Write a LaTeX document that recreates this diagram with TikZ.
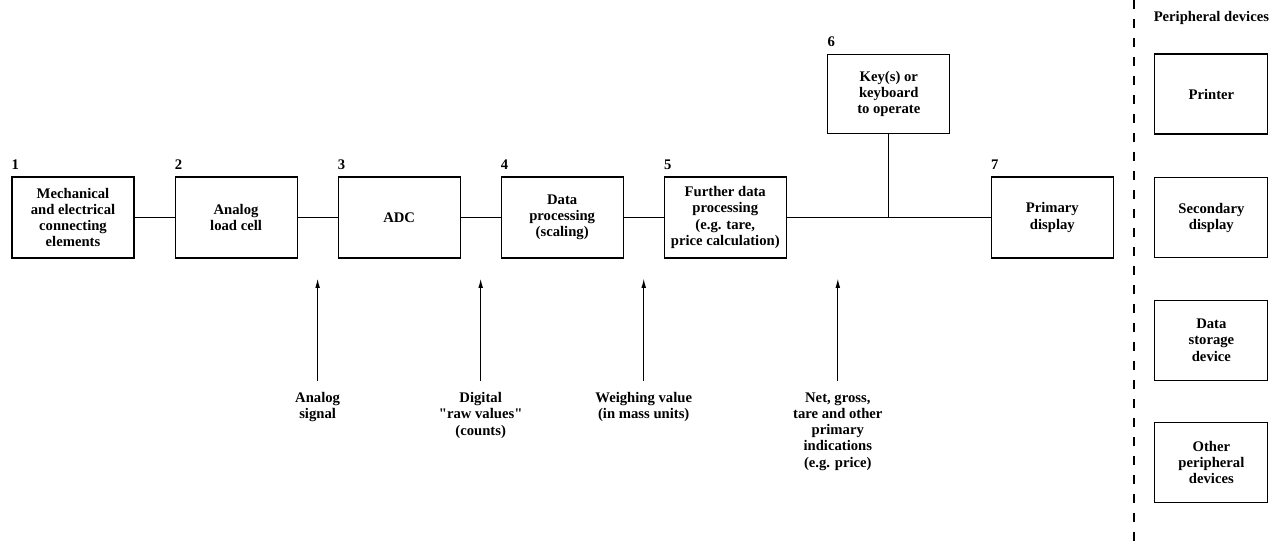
\documentclass[tikz,border=0pt]{standalone}
\usepackage{fontspec}
\setmainfont{Liberation Serif}[Ligatures=TeXOff]
\usetikzlibrary{positioning, arrows.meta, calc}

\tikzstyle{unit} = [rectangle, draw, line width=0.8pt, minimum width=91.5pt, minimum height=60.75pt, align=center, inner sep=2pt]
\tikzstyle{device} = [rectangle, draw, line width=0.8pt, minimum width=84.75pt, minimum height=60pt, align=center, inner sep=2pt]
\tikzstyle{num} = [anchor=south west, inner sep=0pt, yshift=5pt]
\tikzstyle{caption} = [align=center, inner sep=2pt]
\tikzstyle{link} = [line width=0.8pt]
\tikzstyle{arrow} = [line width=0.8pt, -{Latex[length=7pt, width=3.5pt]}, shorten <=6.75pt]
\tikzstyle{divider} = [line width=1.2pt, dash pattern=on 7pt off 7.25pt]

\begin{document}
\begin{tikzpicture}[node distance=30pt, font=\fontsize{11}{12.2}\selectfont\bfseries]
  \useasboundingbox (0,0) rectangle (966pt,-408pt);
  \coordinate (origin) at (0,0);
  \coordinate (floor) at (0,-408pt);

  % Main chain
  \node (mech) [unit, label={[num]north west:1}] at (54.75pt,-163.125pt) {Mechanical\\and electrical\\connecting\\elements};
  \node (cell) [unit, right=of mech, label={[num]north west:2}] {Analog\\load cell};
  \node (adc) [unit, right=of cell, label={[num]north west:3}] {ADC};
  \node (scaling) [unit, right=of adc, label={[num]north west:4}] {Data\\processing\\(scaling)};
  \node (further) [unit, right=of scaling, label={[num]north west:5}] {Further data\\processing\\(e.g. tare,\\price calculation)};
  \node (display) [unit, right=153pt of further, label={[num]north west:7}] {Primary\\display};

  % Operating keys
  \coordinate (junction) at ($(further.east)!0.5!(display.west)$);
  \node (keys) [unit, minimum height=59.25pt, above=62.6pt of junction, label={[num]north west:6}] {Key(s) or\\keyboard\\to operate};

  % Peripheral devices
  \node (printer) [device, right=153pt of keys] {Printer};
  \node (secondary) [device, below=32pt of printer] {Secondary\\display};
  \node (storage) [device, below=31pt of secondary] {Data\\storage\\device};
  \node (other) [device, below=31pt of storage] {Other\\peripheral\\devices};
  \node (periph) [above=18pt of printer] {Peripheral devices};

  % Connections
  \draw[link] (mech) -- (cell);
  \draw[link] (cell) -- (adc);
  \draw[link] (adc) -- (scaling);
  \draw[link] (scaling) -- (further);
  \draw[link] (further) -- (display);
  \draw[link] (keys) -- (junction);

  % Signals between the stages
  \coordinate (tipA) at ($(cell.south east)!0.5!(adc.south west)+(0,-15pt)$);
  \coordinate (tipD) at ($(adc.south east)!0.5!(scaling.south west)+(0,-15pt)$);
  \coordinate (tipW) at ($(scaling.south east)!0.5!(further.south west)+(0,-15pt)$);
  \coordinate (tipN) at ($(further.south east)!0.5!(junction)$);
  \coordinate (tipN) at (tipN |- tipA);

  \node (analog) [caption, below=83.25pt of tipA, anchor=north] {Analog\\signal};
  \node (digital) [caption, below=83.25pt of tipD, anchor=north] {Digital\\"raw values"\\(counts)};
  \node (weighing) [caption, below=83.25pt of tipW, anchor=north] {Weighing value\\(in mass units)};
  \node (netgross) [caption, below=83.25pt of tipN, anchor=north] {Net, gross,\\tare and other\\primary\\indications\\(e.g. price)};

  \draw[arrow] (analog) -- (tipA);
  \draw[arrow] (digital) -- (tipD);
  \draw[arrow] (weighing) -- (tipW);
  \draw[arrow] (netgross) -- (tipN);

  % Divider
  \coordinate (divmid) at ($(display.east)!0.5!(secondary.west)$);
  \coordinate (divtop) at (divmid |- origin);
  \coordinate (divbot) at (divmid |- floor);
  \draw[divider] (divtop) -- (divbot);

\end{tikzpicture}
\end{document}
